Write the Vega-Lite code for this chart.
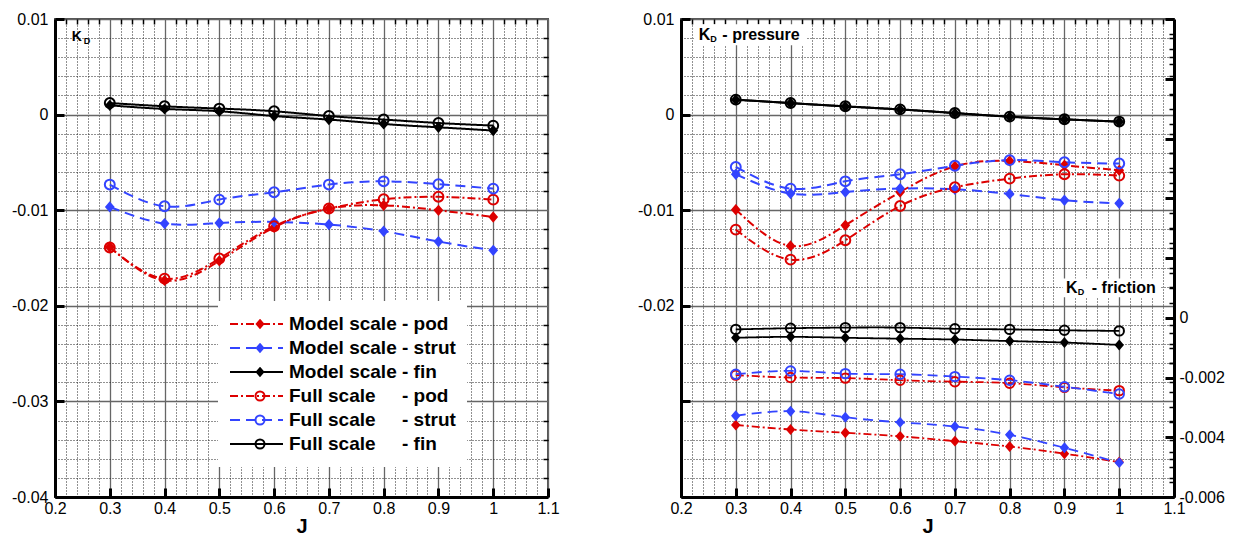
{
  "$schema": "https://vega.github.io/schema/vega-lite/v6.json",
  "padding": {"left": 10, "top": 10, "right": 5, "bottom": 0},
  "spacing": 75,
  "config": {
    "font": "Liberation Sans",
    "view": {"stroke": "#555555", "strokeWidth": 2},
    "axis": {"labelFont": "Liberation Sans", "labelFontSize": 16, "labelColor": "black", "labelFlush": false, "labelOverlap": false, "titleFont": "Liberation Sans", "titleColor": "black"},
    "legend": {"symbolOpacity": 1}
  },
  "datasets": {
    "d": [
      {"p":"T","k":"Mpod","J":0.3,"v":-0.01385},{"p":"T","k":"Mpod","J":0.4,"v":-0.01735},{"p":"T","k":"Mpod","J":0.5,"v":-0.0153},{"p":"T","k":"Mpod","J":0.6,"v":-0.0118},{"p":"T","k":"Mpod","J":0.7,"v":-0.00983},{"p":"T","k":"Mpod","J":0.8,"v":-0.00949},{"p":"T","k":"Mpod","J":0.9,"v":-0.01001},{"p":"T","k":"Mpod","J":1.0,"v":-0.01071},
      {"p":"T","k":"Mstrut","J":0.3,"v":-0.00966},{"p":"T","k":"Mstrut","J":0.4,"v":-0.0114},{"p":"T","k":"Mstrut","J":0.5,"v":-0.01134},{"p":"T","k":"Mstrut","J":0.6,"v":-0.01123},{"p":"T","k":"Mstrut","J":0.7,"v":-0.0115},{"p":"T","k":"Mstrut","J":0.8,"v":-0.0122},{"p":"T","k":"Mstrut","J":0.9,"v":-0.01328},{"p":"T","k":"Mstrut","J":1.0,"v":-0.0142},
      {"p":"T","k":"Mfin","J":0.3,"v":0.00097},{"p":"T","k":"Mfin","J":0.4,"v":0.00059},{"p":"T","k":"Mfin","J":0.5,"v":0.00035},{"p":"T","k":"Mfin","J":0.6,"v":-0.00015},{"p":"T","k":"Mfin","J":0.7,"v":-0.00052},{"p":"T","k":"Mfin","J":0.8,"v":-0.00098},{"p":"T","k":"Mfin","J":0.9,"v":-0.00133},{"p":"T","k":"Mfin","J":1.0,"v":-0.00167},
      {"p":"T","k":"Fpod","J":0.3,"v":-0.0139},{"p":"T","k":"Fpod","J":0.4,"v":-0.01716},{"p":"T","k":"Fpod","J":0.5,"v":-0.01506},{"p":"T","k":"Fpod","J":0.6,"v":-0.01168},{"p":"T","k":"Fpod","J":0.7,"v":-0.00983},{"p":"T","k":"Fpod","J":0.8,"v":-0.00886},{"p":"T","k":"Fpod","J":0.9,"v":-0.0086},{"p":"T","k":"Fpod","J":1.0,"v":-0.00889},
      {"p":"T","k":"Fstrut","J":0.3,"v":-0.00732},{"p":"T","k":"Fstrut","J":0.4,"v":-0.00959},{"p":"T","k":"Fstrut","J":0.5,"v":-0.00889},{"p":"T","k":"Fstrut","J":0.6,"v":-0.00813},{"p":"T","k":"Fstrut","J":0.7,"v":-0.00732},{"p":"T","k":"Fstrut","J":0.8,"v":-0.00698},{"p":"T","k":"Fstrut","J":0.9,"v":-0.00728},{"p":"T","k":"Fstrut","J":1.0,"v":-0.00774},
      {"p":"T","k":"Ffin","J":0.3,"v":0.00121},{"p":"T","k":"Ffin","J":0.4,"v":0.00087},{"p":"T","k":"Ffin","J":0.5,"v":0.00063},{"p":"T","k":"Ffin","J":0.6,"v":0.00035},{"p":"T","k":"Ffin","J":0.7,"v":-0.00015},{"p":"T","k":"Ffin","J":0.8,"v":-0.00052},{"p":"T","k":"Ffin","J":0.9,"v":-0.00088},{"p":"T","k":"Ffin","J":1.0,"v":-0.00115},

      {"p":"P","k":"Mpod","J":0.3,"v":-0.00994},{"p":"P","k":"Mpod","J":0.4,"v":-0.01374},{"p":"P","k":"Mpod","J":0.5,"v":-0.01158},{"p":"P","k":"Mpod","J":0.6,"v":-0.0081},{"p":"P","k":"Mpod","J":0.7,"v":-0.00541},{"p":"P","k":"Mpod","J":0.8,"v":-0.00485},{"p":"P","k":"Mpod","J":0.9,"v":-0.0053},{"p":"P","k":"Mpod","J":1.0,"v":-0.00583},
      {"p":"P","k":"Mstrut","J":0.3,"v":-0.00624},{"p":"P","k":"Mstrut","J":0.4,"v":-0.00826},{"p":"P","k":"Mstrut","J":0.5,"v":-0.0081},{"p":"P","k":"Mstrut","J":0.6,"v":-0.00774},{"p":"P","k":"Mstrut","J":0.7,"v":-0.00781},{"p":"P","k":"Mstrut","J":0.8,"v":-0.0083},{"p":"P","k":"Mstrut","J":0.9,"v":-0.00896},{"p":"P","k":"Mstrut","J":1.0,"v":-0.00928},
      {"p":"P","k":"Mfin","J":0.3,"v":0.00155},{"p":"P","k":"Mfin","J":0.4,"v":0.0012},{"p":"P","k":"Mfin","J":0.5,"v":0.00085},{"p":"P","k":"Mfin","J":0.6,"v":0.00053},{"p":"P","k":"Mfin","J":0.7,"v":0.00015},{"p":"P","k":"Mfin","J":0.8,"v":-0.00023},{"p":"P","k":"Mfin","J":0.9,"v":-0.0005},{"p":"P","k":"Mfin","J":1.0,"v":-0.00075},
      {"p":"P","k":"Fpod","J":0.3,"v":-0.01203},{"p":"P","k":"Fpod","J":0.4,"v":-0.01517},{"p":"P","k":"Fpod","J":0.5,"v":-0.01315},{"p":"P","k":"Fpod","J":0.6,"v":-0.00956},{"p":"P","k":"Fpod","J":0.7,"v":-0.0076},{"p":"P","k":"Fpod","J":0.8,"v":-0.0067},{"p":"P","k":"Fpod","J":0.9,"v":-0.00624},{"p":"P","k":"Fpod","J":1.0,"v":-0.00638},
      {"p":"P","k":"Fstrut","J":0.3,"v":-0.00548},{"p":"P","k":"Fstrut","J":0.4,"v":-0.00774},{"p":"P","k":"Fstrut","J":0.5,"v":-0.00698},{"p":"P","k":"Fstrut","J":0.6,"v":-0.00624},{"p":"P","k":"Fstrut","J":0.7,"v":-0.00535},{"p":"P","k":"Fstrut","J":0.8,"v":-0.00476},{"p":"P","k":"Fstrut","J":0.9,"v":-0.00498},{"p":"P","k":"Fstrut","J":1.0,"v":-0.00512},
      {"p":"P","k":"Ffin","J":0.3,"v":0.00157},{"p":"P","k":"Ffin","J":0.4,"v":0.00121},{"p":"P","k":"Ffin","J":0.5,"v":0.00087},{"p":"P","k":"Ffin","J":0.6,"v":0.00055},{"p":"P","k":"Ffin","J":0.7,"v":0.00017},{"p":"P","k":"Ffin","J":0.8,"v":-0.00021},{"p":"P","k":"Ffin","J":0.9,"v":-0.00049},{"p":"P","k":"Ffin","J":1.0,"v":-0.00073},

      {"p":"F","k":"Mpod","J":0.3,"v":-0.00359},{"p":"F","k":"Mpod","J":0.4,"v":-0.00374},{"p":"F","k":"Mpod","J":0.5,"v":-0.00385},{"p":"F","k":"Mpod","J":0.6,"v":-0.00397},{"p":"F","k":"Mpod","J":0.7,"v":-0.00413},{"p":"F","k":"Mpod","J":0.8,"v":-0.00431},{"p":"F","k":"Mpod","J":0.9,"v":-0.00455},{"p":"F","k":"Mpod","J":1.0,"v":-0.00483},
      {"p":"F","k":"Mstrut","J":0.3,"v":-0.00328},{"p":"F","k":"Mstrut","J":0.4,"v":-0.00313},{"p":"F","k":"Mstrut","J":0.5,"v":-0.00333},{"p":"F","k":"Mstrut","J":0.6,"v":-0.0035},{"p":"F","k":"Mstrut","J":0.7,"v":-0.00364},{"p":"F","k":"Mstrut","J":0.8,"v":-0.00392},{"p":"F","k":"Mstrut","J":0.9,"v":-0.00435},{"p":"F","k":"Mstrut","J":1.0,"v":-0.00485},
      {"p":"F","k":"Mfin","J":0.3,"v":-0.00067},{"p":"F","k":"Mfin","J":0.4,"v":-0.00064},{"p":"F","k":"Mfin","J":0.5,"v":-0.00067},{"p":"F","k":"Mfin","J":0.6,"v":-0.0007},{"p":"F","k":"Mfin","J":0.7,"v":-0.00073},{"p":"F","k":"Mfin","J":0.8,"v":-0.00078},{"p":"F","k":"Mfin","J":0.9,"v":-0.00083},{"p":"F","k":"Mfin","J":1.0,"v":-0.00091},
      {"p":"F","k":"Fpod","J":0.3,"v":-0.00192},{"p":"F","k":"Fpod","J":0.4,"v":-0.002},{"p":"F","k":"Fpod","J":0.5,"v":-0.00202},{"p":"F","k":"Fpod","J":0.6,"v":-0.00209},{"p":"F","k":"Fpod","J":0.7,"v":-0.00214},{"p":"F","k":"Fpod","J":0.8,"v":-0.00219},{"p":"F","k":"Fpod","J":0.9,"v":-0.00233},{"p":"F","k":"Fpod","J":1.0,"v":-0.00244},
      {"p":"F","k":"Fstrut","J":0.3,"v":-0.00189},{"p":"F","k":"Fstrut","J":0.4,"v":-0.00178},{"p":"F","k":"Fstrut","J":0.5,"v":-0.00187},{"p":"F","k":"Fstrut","J":0.6,"v":-0.00189},{"p":"F","k":"Fstrut","J":0.7,"v":-0.00197},{"p":"F","k":"Fstrut","J":0.8,"v":-0.00209},{"p":"F","k":"Fstrut","J":0.9,"v":-0.00231},{"p":"F","k":"Fstrut","J":1.0,"v":-0.00255},
      {"p":"F","k":"Ffin","J":0.3,"v":-0.00039},{"p":"F","k":"Ffin","J":0.4,"v":-0.00035},{"p":"F","k":"Ffin","J":0.5,"v":-0.00033},{"p":"F","k":"Ffin","J":0.6,"v":-0.00033},{"p":"F","k":"Ffin","J":0.7,"v":-0.00037},{"p":"F","k":"Ffin","J":0.8,"v":-0.00039},{"p":"F","k":"Ffin","J":0.9,"v":-0.00042},{"p":"F","k":"Ffin","J":1.0,"v":-0.00044}
    ]
  },
  "resolve": {"scale": {"color": "independent", "strokeDash": "independent", "shape": "independent", "fill": "independent", "stroke": "independent"}},
  "hconcat": [
    {
      "width": 493,
      "height": 478,
      "resolve": {"axis": {"x": "independent", "y": "independent"}},
      "layer": [
        {
          "data": {"name": "d"},
          "transform": [{"filter": "datum.p=='T'"}],
          "mark": {"type": "line", "interpolate": "natural", "strokeWidth": 2},
          "encoding": {
            "x": {"field": "J", "type": "quantitative", "scale": {"domain": [0.2, 1.1], "nice": false, "zero": false},
              "axis": {"values": [0.2,0.3,0.4,0.5,0.6,0.7,0.8,0.9,1,1.1], "labelExpr": "format(datum.value,'~g')", "labelPadding": 12, "tickSize": -9, "tickWidth": 3, "tickColor": "black", "domainColor": "black", "domainWidth": 3, "grid": true, "gridColor": "#666666", "gridWidth": 1.3, "title": "J", "titleFontSize": 20, "titleFontWeight": "bold", "titlePadding": 0}},
            "y": {"field": "v", "type": "quantitative", "scale": {"domain": [-0.04, 0.01], "nice": false, "zero": false},
              "axis": {"values": [-0.04,-0.03,-0.02,-0.01,0,0.01], "labelExpr": "(datum.value < -1e-9 ? '-' : '') + format(abs(datum.value),'~g')", "labelPadding": 16, "tickSize": -9, "tickWidth": 3, "tickColor": "black", "domainColor": "black", "domainWidth": 3, "grid": true, "gridColor": "#666666", "gridWidth": 1.3, "title": null}},
            "color": {"field": "k", "type": "nominal", "scale": {"domain": ["Mpod","Mstrut","Mfin","Fpod","Fstrut","Ffin"], "range": ["#dd0000","#3344ff","#000000","#dd0000","#3344ff","#000000"]},
              "legend": {"orient": "none", "legendX": 163, "legendY": 282, "title": null, "direction": "vertical", "fillColor": "white", "padding": 11, "clipHeight": 24, "rowPadding": 0, "symbolType": "stroke", "symbolSize": 2809, "symbolStrokeWidth": 2, "labelFont": "Liberation Sans", "labelFontSize": 19, "labelFontWeight": "bold", "labelColor": "black", "labelOffset": 5, "labelLimit": 0,
                "labelExpr": "datum.value=='Mpod'?'Model scale - pod':datum.value=='Mstrut'?'Model scale - strut':datum.value=='Mfin'?'Model scale - fin':datum.value=='Fpod'?'Full scale\u00a0\u00a0\u00a0\u00a0\u00a0- pod':datum.value=='Fstrut'?'Full scale\u00a0\u00a0\u00a0\u00a0\u00a0- strut':'Full scale\u00a0\u00a0\u00a0\u00a0\u00a0- fin'"}},
            "strokeDash": {"field": "k", "type": "nominal", "scale": {"domain": ["Mpod","Mstrut","Mfin","Fpod","Fstrut","Ffin"], "range": [[8,3,2,3],[10,6],[1,0],[8,3,2,3],[10,6],[1,0]]},
              "legend": {"orient": "none", "legendX": 163, "legendY": 282, "title": null, "direction": "vertical", "fillColor": "white", "padding": 11, "clipHeight": 24, "rowPadding": 0, "symbolType": "stroke", "symbolSize": 2809, "symbolStrokeWidth": 2, "labelFont": "Liberation Sans", "labelFontSize": 19, "labelFontWeight": "bold", "labelColor": "black", "labelOffset": 5, "labelLimit": 0,
                "labelExpr": "datum.value=='Mpod'?'Model scale - pod':datum.value=='Mstrut'?'Model scale - strut':datum.value=='Mfin'?'Model scale - fin':datum.value=='Fpod'?'Full scale\u00a0\u00a0\u00a0\u00a0\u00a0- pod':datum.value=='Fstrut'?'Full scale\u00a0\u00a0\u00a0\u00a0\u00a0- strut':'Full scale\u00a0\u00a0\u00a0\u00a0\u00a0- fin'"}}
          }
        },
        {
          "data": {"name": "d"},
          "transform": [{"filter": "datum.p=='T'"}],
          "mark": {"type": "point", "size": 121, "strokeWidth": 2, "opacity": 1},
          "encoding": {
            "x": {"field": "J", "type": "quantitative", "scale": {"domain": [0.2, 1.1], "nice": false, "zero": false},
              "axis": {"values": [0.22,0.24,0.26,0.28,0.32,0.34,0.36,0.38,0.42,0.44,0.46,0.48,0.52,0.54,0.56,0.58,0.62,0.64,0.66,0.68,0.72,0.74,0.76,0.78,0.82,0.84,0.86,0.88,0.92,0.94,0.96,0.98,1.02,1.04,1.06,1.08], "labels": false, "domain": false, "tickSize": -5, "tickWidth": 1.5, "tickColor": "black", "grid": true, "gridColor": "#222222", "gridDash": [1,2], "gridWidth": 1, "title": null}},
            "y": {"field": "v", "type": "quantitative", "scale": {"domain": [-0.04, 0.01], "nice": false, "zero": false},
              "axis": {"values": [-0.038,-0.036,-0.034,-0.032,-0.028,-0.026,-0.024,-0.022,-0.018,-0.016,-0.014,-0.012,-0.008,-0.006,-0.004,-0.002,0.002,0.004,0.006,0.008], "labels": false, "domain": false, "tickSize": -5, "tickWidth": 1.5, "tickColor": "black", "grid": true, "gridColor": "#222222", "gridDash": [1,2], "gridWidth": 1, "title": null}},
            "shape": {"field": "k", "type": "nominal", "scale": {"domain": ["Mpod","Mstrut","Mfin","Fpod","Fstrut","Ffin","zz"], "range": ["M0,-0.75L0.65,0L0,0.75L-0.65,0Z","M0,-0.75L0.65,0L0,0.75L-0.65,0Z","M0,-0.75L0.65,0L0,0.75L-0.65,0Z","M0.9,0A0.9,0.9,0,1,1,-0.9,0A0.9,0.9,0,1,1,0.9,0Z","M0.9,0A0.9,0.9,0,1,1,-0.9,0A0.9,0.9,0,1,1,0.9,0Z","M0.9,0A0.9,0.9,0,1,1,-0.9,0A0.9,0.9,0,1,1,0.9,0Z","M0.9,0A0.9,0.9,0,1,1,-0.9,0A0.9,0.9,0,1,1,0.9,0Z"]},
              "legend": {"orient": "none", "legendX": 163, "legendY": 282, "title": null, "direction": "vertical", "padding": 11, "clipHeight": 24, "rowPadding": 0, "symbolSize": 100, "symbolStrokeWidth": 2, "symbolOffset": 21.5, "labelExpr": "''", "labelFontSize": 19, "values": ["Mpod","Mstrut","Mfin","Fpod","Fstrut","Ffin"]}},
            "fill": {"field": "k", "type": "nominal", "scale": {"domain": ["Mpod","Mstrut","Mfin","Fpod","Fstrut","Ffin","zz"], "range": ["#dd0000","#3344ff","#000000","transparent","transparent","transparent","transparent"]},
              "legend": {"orient": "none", "legendX": 163, "legendY": 282, "title": null, "direction": "vertical", "padding": 11, "clipHeight": 24, "rowPadding": 0, "symbolSize": 100, "symbolStrokeWidth": 2, "symbolOffset": 21.5, "labelExpr": "''", "labelFontSize": 19, "values": ["Mpod","Mstrut","Mfin","Fpod","Fstrut","Ffin"]}},
            "stroke": {"field": "k", "type": "nominal", "scale": {"domain": ["Mpod","Mstrut","Mfin","Fpod","Fstrut","Ffin","zz"], "range": ["#dd0000","#3344ff","#000000","#dd0000","#3344ff","#000000","#000000"]},
              "legend": {"orient": "none", "legendX": 163, "legendY": 282, "title": null, "direction": "vertical", "padding": 11, "clipHeight": 24, "rowPadding": 0, "symbolSize": 100, "symbolStrokeWidth": 2, "symbolOffset": 21.5, "labelExpr": "''", "labelFontSize": 19, "values": ["Mpod","Mstrut","Mfin","Fpod","Fstrut","Ffin"]}}
          }
        },
        {
          "data": {"values": [{}]},
          "mark": {"type": "text", "text": "K", "font": "Liberation Sans", "fontSize": 14, "fontWeight": "bold", "align": "left", "baseline": "alphabetic", "color": "black"},
          "encoding": {
            "x": {"datum": 0.2305, "type": "quantitative", "scale": {"domain": [0.2, 1.1], "nice": false, "zero": false}, "axis": null},
            "y": {"datum": 0.0077, "type": "quantitative", "scale": {"domain": [-0.04, 0.01], "nice": false, "zero": false}, "axis": null}
          }
        },
        {
          "data": {"values": [{}]},
          "mark": {"type": "text", "text": "D", "font": "Liberation Sans", "fontSize": 9, "fontWeight": "bold", "align": "left", "baseline": "alphabetic", "color": "black"},
          "encoding": {
            "x": {"datum": 0.2525, "type": "quantitative", "scale": {"domain": [0.2, 1.1], "nice": false, "zero": false}, "axis": null},
            "y": {"datum": 0.00743, "type": "quantitative", "scale": {"domain": [-0.04, 0.01], "nice": false, "zero": false}, "axis": null}
          }
        }
      ]
    },
    {
      "width": 493,
      "height": 478,
      "resolve": {"scale": {"y": "independent"}, "axis": {"x": "independent", "y": "independent"}},
      "layer": [
        {
          "data": {"name": "d"},
          "transform": [{"filter": "datum.p=='P'"}],
          "mark": {"type": "line", "interpolate": "natural", "strokeWidth": 2},
          "encoding": {
            "x": {"field": "J", "type": "quantitative", "scale": {"domain": [0.2, 1.1], "nice": false, "zero": false},
              "axis": {"values": [0.2,0.3,0.4,0.5,0.6,0.7,0.8,0.9,1,1.1], "labelExpr": "format(datum.value,'~g')", "labelPadding": 12, "tickSize": -9, "tickWidth": 3, "tickColor": "black", "domainColor": "black", "domainWidth": 3, "grid": true, "gridColor": "#666666", "gridWidth": 1.3, "title": "J", "titleFontSize": 20, "titleFontWeight": "bold", "titlePadding": 0}},
            "y": {"field": "v", "type": "quantitative", "scale": {"domain": [-0.04, 0.01], "nice": false, "zero": false},
              "axis": {"values": [-0.04,-0.03,-0.02,-0.01,0,0.01], "labelExpr": "datum.value < -0.025 ? '' : (datum.value < -1e-9 ? '-' : '') + format(abs(datum.value),'~g')", "labelPadding": 16, "tickSize": -9, "tickWidth": 3, "tickColor": "black", "domainColor": "black", "domainWidth": 3, "grid": true, "gridColor": "#666666", "gridWidth": 1.3, "title": null}},
            "color": {"field": "k", "type": "nominal", "scale": {"domain": ["Mpod","Mstrut","Mfin","Fpod","Fstrut","Ffin"], "range": ["#dd0000","#3344ff","#000000","#dd0000","#3344ff","#000000"]}, "legend": null},
            "strokeDash": {"field": "k", "type": "nominal", "scale": {"domain": ["Mpod","Mstrut","Mfin","Fpod","Fstrut","Ffin"], "range": [[8,3,2,3],[10,6],[1,0],[8,3,2,3],[10,6],[1,0]]}, "legend": null}
          }
        },
        {
          "data": {"name": "d"},
          "transform": [{"filter": "datum.p=='P'"}],
          "mark": {"type": "point", "size": 121, "strokeWidth": 2, "opacity": 1},
          "encoding": {
            "x": {"field": "J", "type": "quantitative", "scale": {"domain": [0.2, 1.1], "nice": false, "zero": false},
              "axis": {"values": [0.22,0.24,0.26,0.28,0.32,0.34,0.36,0.38,0.42,0.44,0.46,0.48,0.52,0.54,0.56,0.58,0.62,0.64,0.66,0.68,0.72,0.74,0.76,0.78,0.82,0.84,0.86,0.88,0.92,0.94,0.96,0.98,1.02,1.04,1.06,1.08], "labels": false, "domain": false, "tickSize": -5, "tickWidth": 1.5, "tickColor": "black", "grid": true, "gridColor": "#222222", "gridDash": [1,2], "gridWidth": 1, "title": null}},
            "y": {"field": "v", "type": "quantitative", "scale": {"domain": [-0.04, 0.01], "nice": false, "zero": false},
              "axis": {"values": [-0.038,-0.036,-0.034,-0.032,-0.028,-0.026,-0.024,-0.022,-0.018,-0.016,-0.014,-0.012,-0.008,-0.006,-0.004,-0.002,0.002,0.004,0.006,0.008], "labels": false, "domain": false, "tickSize": -5, "tickWidth": 1.5, "tickColor": "black", "grid": true, "gridColor": "#222222", "gridDash": [1,2], "gridWidth": 1, "title": null}},
            "shape": {"field": "k", "type": "nominal", "scale": {"domain": ["Mpod","Mstrut","Mfin","Fpod","Fstrut","Ffin"], "range": ["M0,-0.75L0.65,0L0,0.75L-0.65,0Z","M0,-0.75L0.65,0L0,0.75L-0.65,0Z","M0,-0.75L0.65,0L0,0.75L-0.65,0Z","M0.9,0A0.9,0.9,0,1,1,-0.9,0A0.9,0.9,0,1,1,0.9,0Z","M0.9,0A0.9,0.9,0,1,1,-0.9,0A0.9,0.9,0,1,1,0.9,0Z","M0.9,0A0.9,0.9,0,1,1,-0.9,0A0.9,0.9,0,1,1,0.9,0Z"]}, "legend": null},
            "fill": {"field": "k", "type": "nominal", "scale": {"domain": ["Mpod","Mstrut","Mfin","Fpod","Fstrut","Ffin"], "range": ["#dd0000","#3344ff","#000000","transparent","transparent","transparent"]}, "legend": null},
            "stroke": {"field": "k", "type": "nominal", "scale": {"domain": ["Mpod","Mstrut","Mfin","Fpod","Fstrut","Ffin"], "range": ["#dd0000","#3344ff","#000000","#dd0000","#3344ff","#000000"]}, "legend": null}
          }
        },
        {
          "data": {"name": "d"},
          "transform": [{"filter": "datum.p=='F'"}],
          "mark": {"type": "line", "interpolate": "natural", "strokeWidth": 1.8},
          "encoding": {
            "x": {"field": "J", "type": "quantitative", "scale": {"domain": [0.2, 1.1], "nice": false, "zero": false}, "axis": null},
            "y": {"field": "v", "type": "quantitative", "scale": {"domain": [-0.006, 0.01], "nice": false, "zero": false},
              "axis": {"orient": "right", "values": [-0.006,-0.004,-0.002,0,0.002,0.004,0.006,0.008,0.01], "labelExpr": "datum.value > 1e-9 ? '' : (datum.value < -1e-9 ? '-' : '') + format(abs(datum.value),'~g')", "labelPadding": 14, "tickSize": -9, "tickWidth": 3, "tickColor": "black", "domainColor": "black", "domainWidth": 3, "grid": false, "title": null}},
            "color": {"field": "k", "type": "nominal", "scale": {"domain": ["Mpod","Mstrut","Mfin","Fpod","Fstrut","Ffin"], "range": ["#dd0000","#3344ff","#000000","#dd0000","#3344ff","#000000"]}, "legend": null},
            "strokeDash": {"field": "k", "type": "nominal", "scale": {"domain": ["Mpod","Mstrut","Mfin","Fpod","Fstrut","Ffin"], "range": [[8,3,2,3],[10,6],[1,0],[8,3,2,3],[10,6],[1,0]]}, "legend": null}
          }
        },
        {
          "data": {"name": "d"},
          "transform": [{"filter": "datum.p=='F'"}],
          "mark": {"type": "point", "size": 110, "strokeWidth": 2, "opacity": 1},
          "encoding": {
            "x": {"field": "J", "type": "quantitative", "scale": {"domain": [0.2, 1.1], "nice": false, "zero": false}, "axis": null},
            "y": {"field": "v", "type": "quantitative", "scale": {"domain": [-0.006, 0.01], "nice": false, "zero": false},
              "axis": {"orient": "right", "values": [-0.0055,-0.005,-0.0045,-0.0035,-0.003,-0.0025,-0.0015,-0.001,-0.0005,0.0005,0.001,0.0015,0.0025,0.003,0.0035,0.0045,0.005,0.0055,0.0065,0.007,0.0075,0.0085,0.009,0.0095], "labels": false, "domain": false, "tickSize": -5, "tickWidth": 1.5, "tickColor": "black", "grid": false, "title": null}},
            "shape": {"field": "k", "type": "nominal", "scale": {"domain": ["Mpod","Mstrut","Mfin","Fpod","Fstrut","Ffin"], "range": ["M0,-0.75L0.65,0L0,0.75L-0.65,0Z","M0,-0.75L0.65,0L0,0.75L-0.65,0Z","M0,-0.75L0.65,0L0,0.75L-0.65,0Z","M0.9,0A0.9,0.9,0,1,1,-0.9,0A0.9,0.9,0,1,1,0.9,0Z","M0.9,0A0.9,0.9,0,1,1,-0.9,0A0.9,0.9,0,1,1,0.9,0Z","M0.9,0A0.9,0.9,0,1,1,-0.9,0A0.9,0.9,0,1,1,0.9,0Z"]}, "legend": null},
            "fill": {"field": "k", "type": "nominal", "scale": {"domain": ["Mpod","Mstrut","Mfin","Fpod","Fstrut","Ffin"], "range": ["#dd0000","#3344ff","#000000","transparent","transparent","transparent"]}, "legend": null},
            "stroke": {"field": "k", "type": "nominal", "scale": {"domain": ["Mpod","Mstrut","Mfin","Fpod","Fstrut","Ffin"], "range": ["#dd0000","#3344ff","#000000","#dd0000","#3344ff","#000000"]}, "legend": null}
          }
        },
        {
          "data": {"values": [{}]},
          "mark": {"type": "rect", "color": "white", "opacity": 1},
          "encoding": {
            "x": {"datum": 0.2237, "type": "quantitative", "scale": {"domain": [0.2, 1.1], "nice": false, "zero": false}, "axis": null},
            "x2": {"datum": 0.43},
            "y": {"datum": 0.00945, "type": "quantitative", "scale": {"domain": [-0.04, 0.01], "nice": false, "zero": false}, "axis": null},
            "y2": {"datum": 0.00725}
          }
        },
        {
          "data": {"values": [{}]},
          "mark": {"type": "rect", "color": "white", "opacity": 1},
          "encoding": {
            "x": {"datum": 0.8968, "type": "quantitative", "scale": {"domain": [0.2, 1.1], "nice": false, "zero": false}, "axis": null},
            "x2": {"datum": 1.0762},
            "y": {"datum": -0.01715, "type": "quantitative", "scale": {"domain": [-0.04, 0.01], "nice": false, "zero": false}, "axis": null},
            "y2": {"datum": -0.01911}
          }
        },
        {
          "data": {"values": [{}]},
          "mark": {"type": "text", "text": "K", "font": "Liberation Sans", "fontSize": 16, "fontWeight": "bold", "align": "left", "baseline": "alphabetic", "color": "black"},
          "encoding": {
            "x": {"datum": 0.2323, "type": "quantitative", "scale": {"domain": [0.2, 1.1], "nice": false, "zero": false}, "axis": null},
            "y": {"datum": 0.00777, "type": "quantitative", "scale": {"domain": [-0.04, 0.01], "nice": false, "zero": false}, "axis": null}
          }
        },
        {
          "data": {"values": [{}]},
          "mark": {"type": "text", "text": "D", "font": "Liberation Sans", "fontSize": 9, "fontWeight": "bold", "align": "left", "baseline": "alphabetic", "color": "black"},
          "encoding": {
            "x": {"datum": 0.2535, "type": "quantitative", "scale": {"domain": [0.2, 1.1], "nice": false, "zero": false}, "axis": null},
            "y": {"datum": 0.00756, "type": "quantitative", "scale": {"domain": [-0.04, 0.01], "nice": false, "zero": false}, "axis": null}
          }
        },
        {
          "data": {"values": [{}]},
          "mark": {"type": "text", "text": "- pressure", "font": "Liberation Sans", "fontSize": 16, "fontWeight": "bold", "align": "left", "baseline": "alphabetic", "color": "black"},
          "encoding": {
            "x": {"datum": 0.2755, "type": "quantitative", "scale": {"domain": [0.2, 1.1], "nice": false, "zero": false}, "axis": null},
            "y": {"datum": 0.00777, "type": "quantitative", "scale": {"domain": [-0.04, 0.01], "nice": false, "zero": false}, "axis": null}
          }
        },
        {
          "data": {"values": [{}]},
          "mark": {"type": "text", "text": "K", "font": "Liberation Sans", "fontSize": 16, "fontWeight": "bold", "align": "left", "baseline": "alphabetic", "color": "black"},
          "encoding": {
            "x": {"datum": 0.9028, "type": "quantitative", "scale": {"domain": [0.2, 1.1], "nice": false, "zero": false}, "axis": null},
            "y": {"datum": -0.01862, "type": "quantitative", "scale": {"domain": [-0.04, 0.01], "nice": false, "zero": false}, "axis": null}
          }
        },
        {
          "data": {"values": [{}]},
          "mark": {"type": "text", "text": "D", "font": "Liberation Sans", "fontSize": 9, "fontWeight": "bold", "align": "left", "baseline": "alphabetic", "color": "black"},
          "encoding": {
            "x": {"datum": 0.9245, "type": "quantitative", "scale": {"domain": [0.2, 1.1], "nice": false, "zero": false}, "axis": null},
            "y": {"datum": -0.0189, "type": "quantitative", "scale": {"domain": [-0.04, 0.01], "nice": false, "zero": false}, "axis": null}
          }
        },
        {
          "data": {"values": [{}]},
          "mark": {"type": "text", "text": "- friction", "font": "Liberation Sans", "fontSize": 16, "fontWeight": "bold", "align": "left", "baseline": "alphabetic", "color": "black"},
          "encoding": {
            "x": {"datum": 0.95, "type": "quantitative", "scale": {"domain": [0.2, 1.1], "nice": false, "zero": false}, "axis": null},
            "y": {"datum": -0.01862, "type": "quantitative", "scale": {"domain": [-0.04, 0.01], "nice": false, "zero": false}, "axis": null}
          }
        }
      ]
    }
  ]
}
